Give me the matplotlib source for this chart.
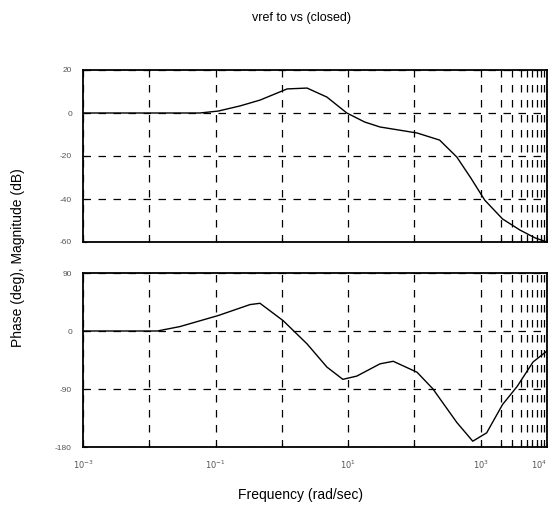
import matplotlib
matplotlib.use("Agg")
import matplotlib.pyplot as plt
from matplotlib.ticker import FixedLocator, NullFormatter
import numpy as np

plt.rcParams['font.family'] = ['Liberation Sans', 'DejaVu Sans']

# magnitude response (log10 of frequency, dB)
mag_logf = [-3.0, -1.24, -0.96, -0.63, -0.33, 0.08, 0.38, 0.68, 0.98, 1.25,
            1.48, 2.04, 2.38, 2.64, 2.85, 3.06, 3.33, 3.59, 3.82, 4.0]
mag_db = [0, 0, 0.9, 3.3, 6.0, 11.2, 11.6, 7.4, 0, -4.2,
          -6.5, -9.3, -12.6, -20.5, -30.2, -40.5, -49.3, -54.4, -58.1, -60]

# phase response (log10 of frequency, degrees)
ph_logf = [-3.0, -1.88, -1.54, -0.96, -0.48, -0.33, 0.02, 0.38, 0.68, 0.92, 1.13,
           1.48, 1.68, 2.04, 2.28, 2.64, 2.88, 3.09, 3.33, 3.55, 3.79, 4.0]
ph_deg = [0, 0, 6.8, 24, 41, 43, 16, -20, -56, -75, -70,
          -51, -47, -64, -90, -142, -171, -158, -114, -86, -48, -31]

mag_ticks = [-60, -40, -20, 0, 20]
ph_ticks = [-180, -90, 0, 90]
decades = [-3, -2, -1, 0, 1, 2, 3, 4]
label_decades = [-3, -1, 1, 3, 4]

fig = plt.figure(figsize=(5.48, 5.11), dpi=100)
ax1 = fig.add_axes([83/548, 1-242/511, 464/548, 172/511])
ax2 = fig.add_axes([83/548, 1-447/511, 464/548, 174/511])

ax1.plot(10.0**np.array(mag_logf), mag_db, color='black', lw=1.0)
ax2.plot(10.0**np.array(ph_logf), ph_deg, color='black', lw=1.0)

minor = [k*1e3 for k in range(2, 10)]
for ax, yt, ylim in [(ax1, mag_ticks, (-60, 20)), (ax2, ph_ticks, (-180, 90))]:
    ax.set_xscale('log')
    ax.set_xlim(1e-3, 1e4)
    ax.set_ylim(*ylim)
    ax.xaxis.set_major_locator(FixedLocator([10.0**d for d in decades]))
    ax.xaxis.set_minor_locator(FixedLocator(minor))
    ax.xaxis.set_minor_formatter(NullFormatter())
    ax.set_yticks(yt)
    ax.set_yticklabels([str(v) for v in yt], fontsize=6, color='#555555')
    ax.grid(True, which='both', axis='x', color='black', ls=(0, (6, 6)), lw=0.9)
    ax.grid(True, which='major', axis='y', color='black', ls=(0, (6, 6)), lw=0.9)
    ax.tick_params(which='both', direction='in', length=3, width=0.8, pad=8)
    for s in ax.spines.values():
        s.set_linewidth(1.3)

ax1.set_xticklabels([])
ax2.set_xticklabels(['$10^{%d}$' % d if d in label_decades else '' for d in decades],
                    fontsize=6, color='#555555')
ax2.get_xticklabels()[-1].set_horizontalalignment('right')

fig.text(301/548, 1-18/511, 'vref to vs (closed)', ha='center', va='center', fontsize=9)
fig.text(301/548, 1-495/511, 'Frequency (rad/sec)', ha='center', va='center', fontsize=10)
fig.text(18/548, 1-258/511, 'Phase (deg), Magnitude (dB)', ha='center', va='center',
         rotation=90, fontsize=10)

fig.savefig('out.png', dpi=100)
